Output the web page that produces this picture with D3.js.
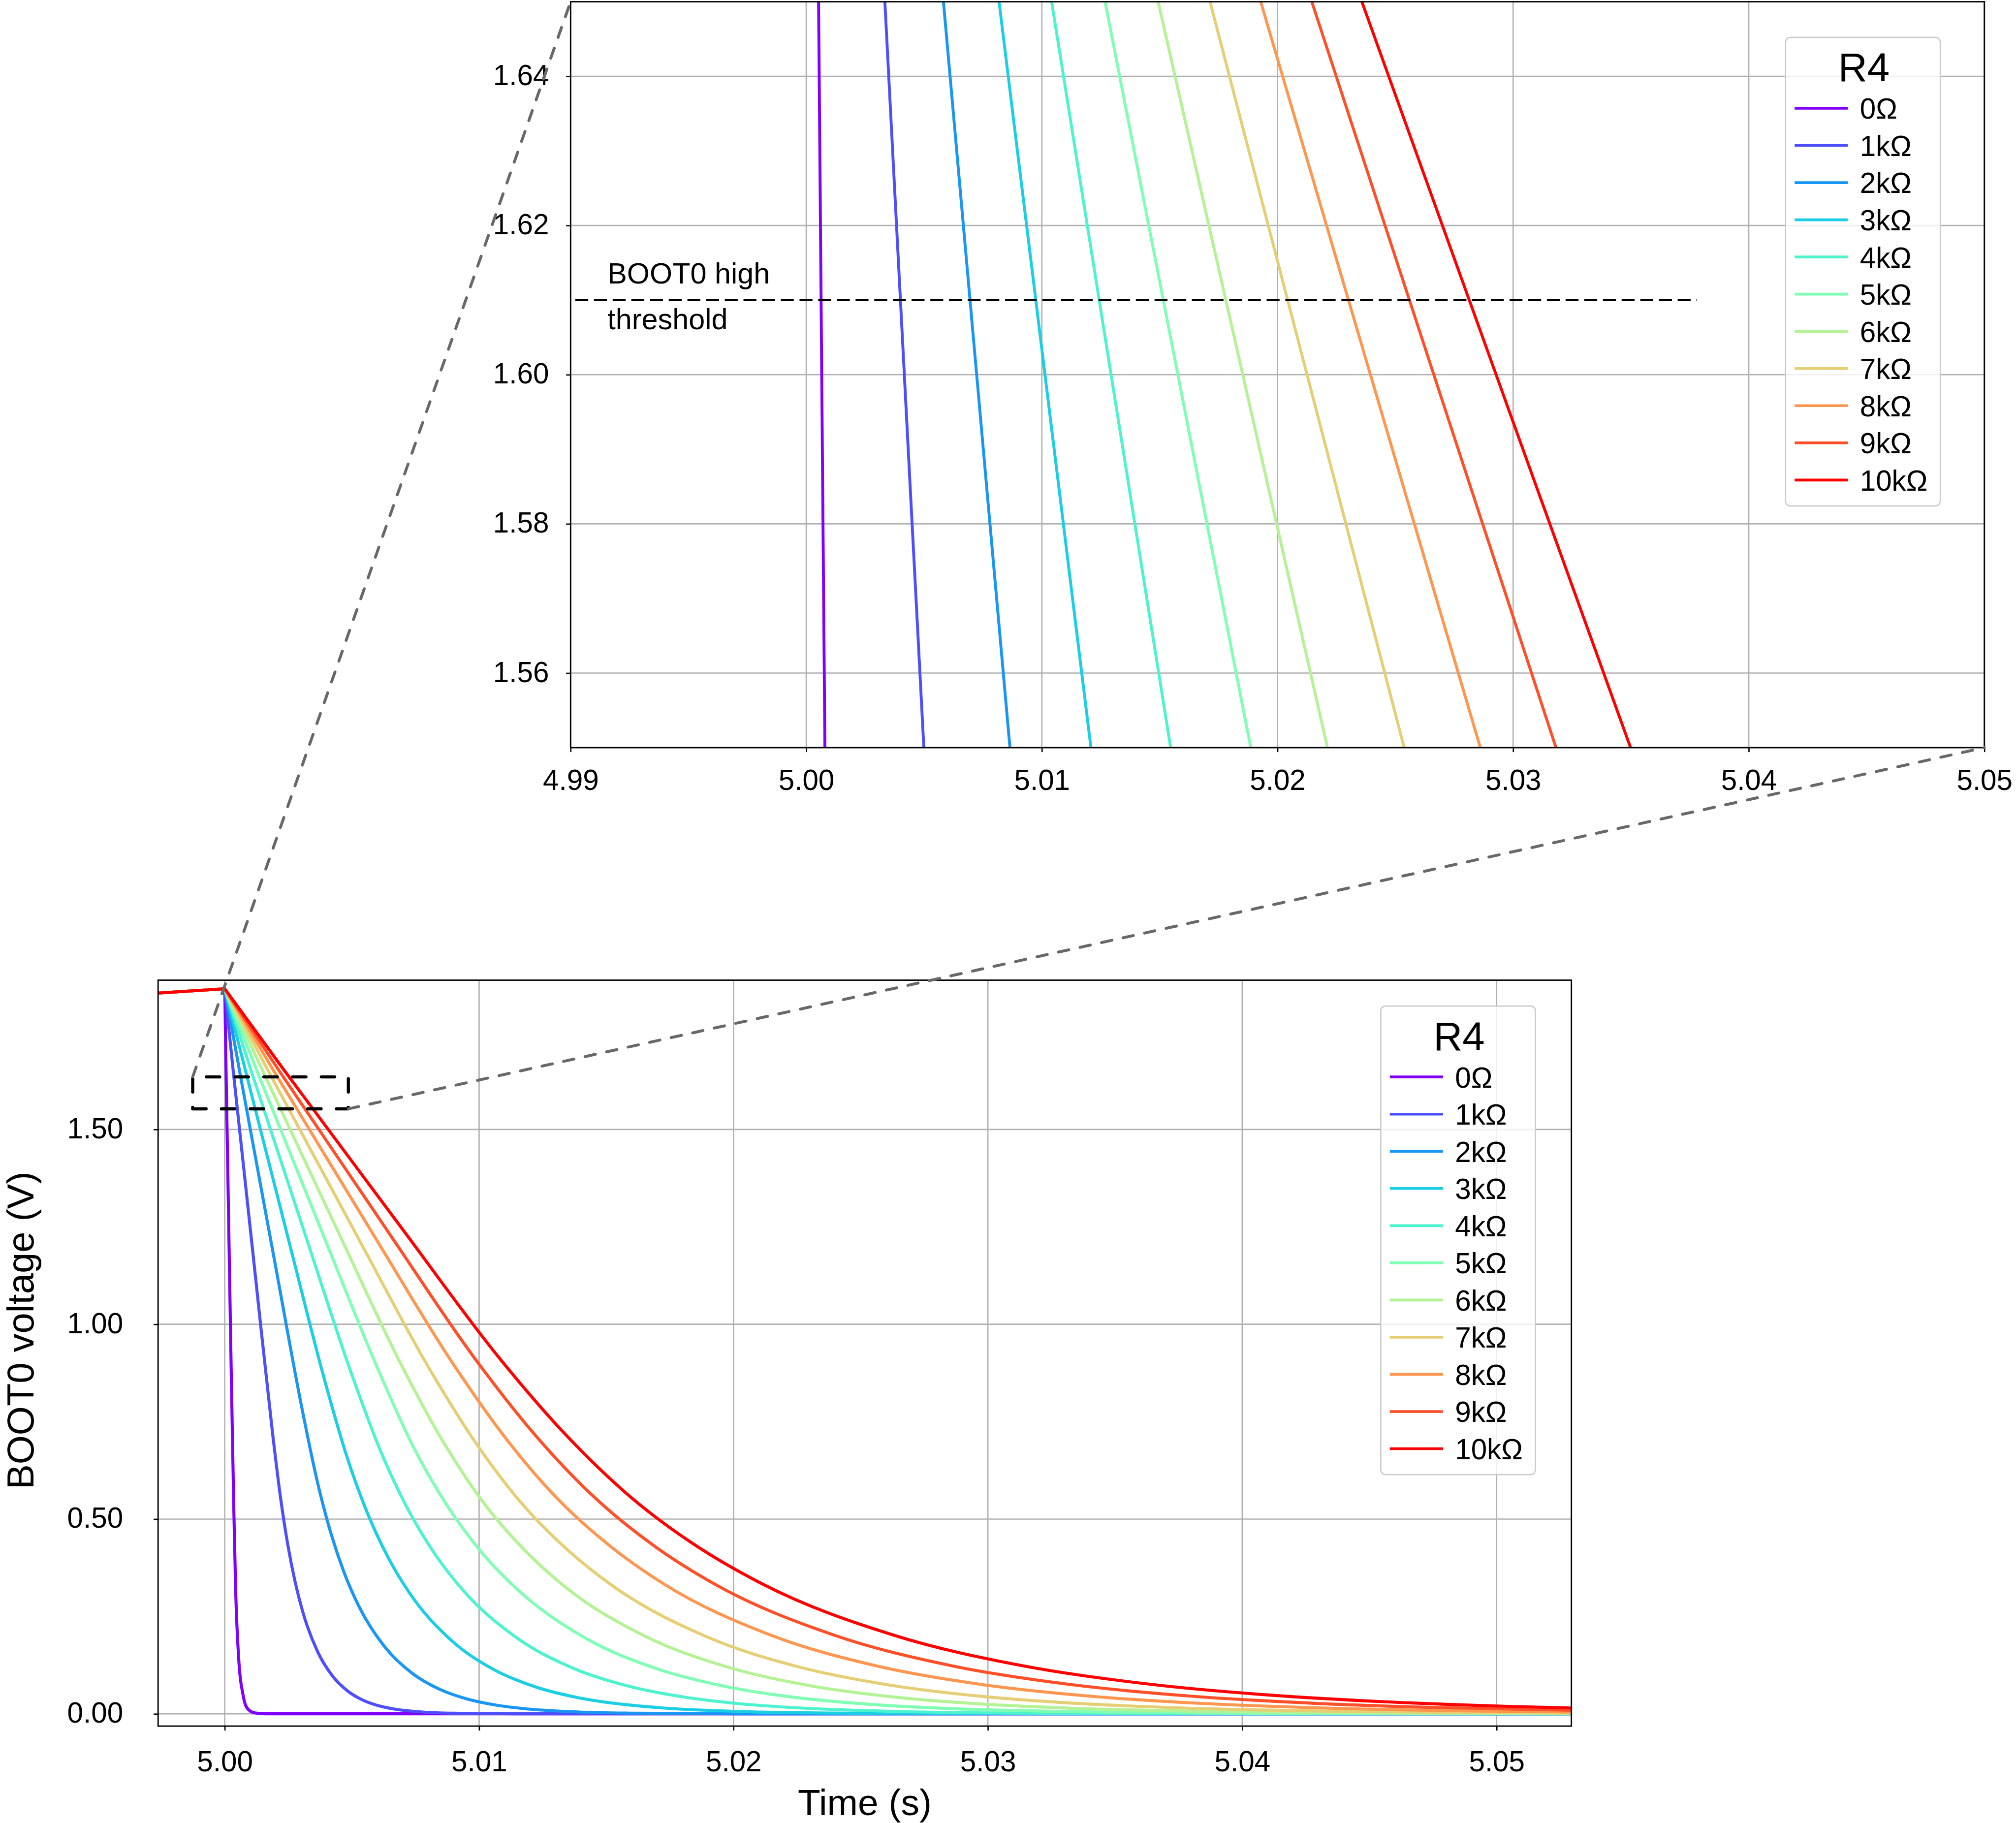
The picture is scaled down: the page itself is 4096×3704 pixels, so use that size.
<!DOCTYPE html>
<html>
<head>
<meta charset="utf-8">
<script src="https://cdn.jsdelivr.net/npm/d3@7"></script>
<style>
html,body{margin:0;padding:0;background:#fff;}
svg{display:block;}
</style>
</head>
<body>
<svg id="chart" width="4096" height="3704"></svg>
<script>
// ---------------- DATA ----------------
const seriesLabels = ["0Ω","1kΩ","2kΩ","3kΩ","4kΩ","5kΩ","6kΩ","7kΩ","8kΩ","9kΩ","10kΩ"];

// shared part before the switching instant (time s, voltage V)
const preTriggerTimes = [4.99738, 5.0];
const preTriggerVolts = [1.850, 1.861];

// each series after the switching instant: [time (s), voltage (V)]
const r0 = [[5.0,1.861],[5.0000524,1.65],[5.0000793,1.55],[5.00024,0.935],[5.00030,0.72],[5.00036,0.515],[5.00043,0.315],[5.00054,0.150],[5.000727,0.046],[5.000868,0.016],[5.00115,0.003],[5.0016,0.0002],[5.0530,0.0]];
const r1k = [[5.0,1.861],[5.0003337,1.65],[5.0004992,1.55],[5.0012,1.1267],[5.0018855,0.7167],[5.0021805,0.561],[5.0024755,0.4353],[5.0027705,0.3377],[5.0030655,0.2622],[5.0036555,0.159],[5.0042455,0.0964],[5.0048355,0.0585],[5.0054255,0.0355],[5.0060155,0.02152],[5.0066055,0.01305],[5.0077855,0.0048],[5.0089655,0.00177],[5.0113255,0.00024],[5.0530,0.0]];
const r2k = [[5.0,1.861],[5.0005823,1.65],[5.0008646,1.55],[5.0020,1.1481],[5.0030931,0.7651],[5.0036306,0.5987],[5.0041681,0.4646],[5.0047056,0.3605],[5.0052431,0.2800],[5.0063181,0.1698],[5.0073931,0.1030],[5.0084681,0.0625],[5.0095431,0.0379],[5.0106181,0.0230],[5.0116931,0.01394],[5.0138431,0.00513],[5.0159931,0.00189],[5.0202931,0.00026],[5.0530,0.0]];
const r3k = [[5.0,1.861],[5.0008183,1.65],[5.0012083,1.55],[5.0026,1.1932],[5.0039536,0.8501],[5.0047786,0.665],[5.0056036,0.5162],[5.0064286,0.4007],[5.0072536,0.3113],[5.0089036,0.1888],[5.0105536,0.1145],[5.0122036,0.0695],[5.0138536,0.04214],[5.0155036,0.02556],[5.0171536,0.0155],[5.0204536,0.0057],[5.0237536,0.0021],[5.0303536,0.00029],[5.0530,0.0]];
const r4k = [[5.0,1.861],[5.0010415,1.65],[5.0015465,1.55],[5.0033,1.2028],[5.0050247,0.8653],[5.0061122,0.6768],[5.0071997,0.5254],[5.0082872,0.4079],[5.0093747,0.3169],[5.0115497,0.1922],[5.0137247,0.1165],[5.0158997,0.0707],[5.0180747,0.0429],[5.0202497,0.0260],[5.0224247,0.01577],[5.0267747,0.0058],[5.0311247,0.00214],[5.0398247,0.00029],[5.0530,0.0]];
const r5k = [[5.0,1.861],[5.0012683,1.65],[5.0018866,1.55],[5.0040,1.2083],[5.0060721,0.8772],[5.0074221,0.6841],[5.0087721,0.5316],[5.0101221,0.4125],[5.0114721,0.3212],[5.0141721,0.1948],[5.0168721,0.1182],[5.0195721,0.0717],[5.0222721,0.04349],[5.0249721,0.02638],[5.0276721,0.0160],[5.0330721,0.00588],[5.0384721,0.00217],[5.0438721,0.0008],[5.0530,0.00015]];
const r6k = [[5.0,1.861],[5.0014935,1.65],[5.002212,1.55],[5.0045,1.2315],[5.006947,0.8949],[5.008547,0.7028],[5.010147,0.5443],[5.011747,0.4229],[5.013347,0.3278],[5.016547,0.1988],[5.019747,0.1205],[5.022947,0.0731],[5.026147,0.04437],[5.029347,0.02691],[5.032547,0.01632],[5.038947,0.0060],[5.045347,0.00221],[5.0530,0.00067]];
const r7k = [[5.0,1.861],[5.0017138,1.65],[5.0025376,1.55],[5.0055,1.1904],[5.0080055,0.8902],[5.0098305,0.6992],[5.0116555,0.5415],[5.0134805,0.4206],[5.0153055,0.3260],[5.0189555,0.1977],[5.0226055,0.1199],[5.0262555,0.0728],[5.0299055,0.0441],[5.0335555,0.02676],[5.0372055,0.01622],[5.0445055,0.00597],[5.0530,0.00187]];
const r8k = [[5.0,1.861],[5.0019287,1.65],[5.0028608,1.55],[5.0060,1.2132],[5.0089065,0.9053],[5.0110065,0.7109],[5.0131065,0.5506],[5.0152065,0.4278],[5.0173065,0.3316],[5.0215065,0.2011],[5.0257065,0.1219],[5.0299065,0.0740],[5.0341065,0.0449],[5.0383065,0.0272],[5.0425065,0.0165],[5.0509065,0.00607],[5.0530,0.00473]];
const r9k = [[5.0,1.861],[5.0021457,1.65],[5.0031819,1.55],[5.0065,1.2298],[5.009844,0.911],[5.012194,0.7164],[5.014544,0.5552],[5.016894,0.4305],[5.019244,0.3337],[5.023944,0.2024],[5.028644,0.1227],[5.033344,0.0745],[5.038044,0.0452],[5.042744,0.0274],[5.047444,0.0166],[5.0530,0.0092]];
const r10k = [[5.0,1.861],[5.0023581,1.65],[5.0034984,1.55],[5.0070,1.2429],[5.010872,0.907],[5.013447,0.7135],[5.016022,0.5529],[5.018597,0.4287],[5.021172,0.3323],[5.026322,0.2015],[5.031472,0.1222],[5.036622,0.0742],[5.041772,0.0450],[5.046922,0.0273],[5.052072,0.01655],[5.0530,0.0151]];

const allSeries = [r0, r1k, r2k, r3k, r4k, r5k, r6k, r7k, r8k, r9k, r10k];

// axis ticks
const mainXTicks = [5.00, 5.01, 5.02, 5.03, 5.04, 5.05];
const mainXTickLabels = ["5.00","5.01","5.02","5.03","5.04","5.05"];
const mainYTicks = [0.0, 0.5, 1.0, 1.5];
const mainYTickLabels = ["0.00","0.50","1.00","1.50"];
const insetXTicks = [4.999, 5.000, 5.001, 5.002, 5.003, 5.004, 5.005];
const insetXTickLabels = ["4.99","5.00","5.01","5.02","5.03","5.04","5.05"];
const insetYTicks = [1.56, 1.58, 1.60, 1.62, 1.64];
const insetYTickLabels = ["1.56","1.58","1.60","1.62","1.64"];

// BOOT0 high threshold line in the inset
const thresholdVolts = 1.61;
const thresholdTimes = [4.99902, 5.00378];
const thresholdText = ["BOOT0 high", "threshold"];

// zoom rectangle drawn on the main plot
const zoomBoxTimes = [4.99874, 5.004859];
const zoomBoxVolts = [1.5528, 1.6348];

const legendTitle = "R4";
const xAxisLabel = "Time (s)";
const yAxisLabel = "BOOT0 voltage (V)";

// ---------------- STYLE ----------------
const seriesColors = ['#8000ff','#4d4ffc','#1996f3','#1acee3','#4df3ce','#80ffb4','#b3f396','#e6ce74','#ff964f','#ff4f28','#ff0000'];
const FONT = '"Liberation Sans", Arial, Helvetica, sans-serif';
const S = 4096 / 4208;

const svg = d3.select('#chart');
svg.append('rect').attr('width', 4096).attr('height', 3704).attr('fill', '#fff');
const root = svg.append('g').attr('transform', `scale(${S})`);
const defs = root.append('defs');

function buildPath(xs, ys, pts) {
  const pre = preTriggerTimes.map((t, i) => [t, preTriggerVolts[i]]);
  const lin = d3.line().x(d => xs(d[0])).y(d => ys(d[1]));
  const mono = d3.line().x(d => xs(d[0])).y(d => ys(d[1])).curve(d3.curveMonotoneX);
  return lin(pre) + mono(pts).replace(/^M/, 'L');
}

function drawLegend(g, bx, by) {
  const w = 323, h = 978;
  const lg = g.append('g');
  lg.append('rect').attr('x', bx).attr('y', by).attr('width', w).attr('height', h)
    .attr('rx', 10).attr('ry', 10)
    .attr('fill', 'rgba(255,255,255,0.8)').attr('stroke', '#cccccc').attr('stroke-width', 2.7);
  lg.append('text').attr('x', bx + w / 2 + 2).attr('y', by + 92)
    .attr('text-anchor', 'middle').attr('font-family', FONT).attr('font-size', 84).attr('fill', '#000')
    .text(legendTitle);
  seriesLabels.forEach((lab, i) => {
    const yy = by + 148 + i * 77.6;
    lg.append('line').attr('x1', bx + 19).attr('x2', bx + 130).attr('y1', yy).attr('y2', yy)
      .attr('stroke', seriesColors[i]).attr('stroke-width', 5.8);
    lg.append('text').attr('x', bx + 155).attr('y', yy + 22)
      .attr('font-family', FONT).attr('font-size', 60).attr('fill', '#000').text(lab);
  });
}

function drawPanel(cfg) {
  const g = root.append('g');
  const [x0, x1] = cfg.x.range();
  const [yb, yt] = cfg.y.range();
  defs.append('clipPath').attr('id', cfg.id).append('rect')
    .attr('x', x0).attr('y', yt).attr('width', x1 - x0).attr('height', yb - yt);
  g.append('rect').attr('x', x0).attr('y', yt).attr('width', x1 - x0).attr('height', yb - yt).attr('fill', '#fff');
  // grid
  const grid = g.append('g').attr('stroke', '#b0b0b0').attr('stroke-width', 2.7);
  grid.selectAll('line.gx').data(cfg.xTicks).join('line').attr('class', 'gx')
    .attr('x1', d => cfg.x(d)).attr('x2', d => cfg.x(d)).attr('y1', yb).attr('y2', yt);
  grid.selectAll('line.gy').data(cfg.yTicks).join('line').attr('class', 'gy')
    .attr('y1', d => cfg.y(d)).attr('y2', d => cfg.y(d)).attr('x1', x0).attr('x2', x1);
  // curves
  const plot = g.append('g').attr('clip-path', `url(#${cfg.id})`);
  allSeries.forEach((pts, i) => {
    plot.append('path').attr('d', buildPath(cfg.x, cfg.y, pts))
      .attr('fill', 'none').attr('stroke', seriesColors[i]).attr('stroke-width', cfg.lw)
      .attr('stroke-linejoin', 'round');
  });
  if (cfg.extra) cfg.extra(plot, g);
  // x axis
  const gx = g.append('g').attr('transform', `translate(0,${yb})`)
    .call(d3.axisBottom(cfg.x).tickValues(cfg.xTicks).tickFormat((d, i) => cfg.xLabels[i]).tickSize(9.3).tickSizeOuter(0));
  gx.select('.domain').remove();
  gx.selectAll('.tick line').attr('stroke', '#000').attr('stroke-width', 2.7);
  gx.selectAll('.tick text').attr('y', cfg.xLabOff).attr('dy', 0)
    .attr('font-family', FONT).attr('font-size', 60).attr('fill', '#000');
  // y axis
  const gy = g.append('g').attr('transform', `translate(${x0},0)`)
    .call(d3.axisLeft(cfg.y).tickValues(cfg.yTicks).tickFormat((d, i) => cfg.yLabels[i]).tickSize(9.3).tickSizeOuter(0));
  gy.select('.domain').remove();
  gy.selectAll('.tick line').attr('stroke', '#000').attr('stroke-width', 2.7);
  gy.selectAll('.tick text').attr('x', -cfg.yLabOff).attr('dy', 0).attr('y', 18)
    .attr('font-family', FONT).attr('font-size', 60).attr('fill', '#000').attr('text-anchor', 'end');
  // spines
  g.append('rect').attr('x', x0).attr('y', yt).attr('width', x1 - x0).attr('height', yb - yt)
    .attr('fill', 'none').attr('stroke', '#000').attr('stroke-width', 2.9);
  drawLegend(g, cfg.legend[0], cfg.legend[1]);
  return g;
}

// ---------------- MAIN AXES ----------------
const xMain = d3.scaleLinear().domain([4.99738, 5.05294]).range([330, 3280]);
const yMain = d3.scaleLinear().domain([-0.03135, 1.8831]).range([3603, 2046]);
drawPanel({id: 'clipMain', x: xMain, y: yMain, lw: 6.3,
  xTicks: mainXTicks, xLabels: mainXTickLabels, yTicks: mainYTicks, yLabels: mainYTickLabels,
  xLabOff: 94, yLabOff: 73, legend: [2882, 2100]});

root.append('text').attr('x', 1805).attr('y', 3789).attr('text-anchor', 'middle')
  .attr('font-family', FONT).attr('font-size', 77).attr('fill', '#000').text(xAxisLabel);
root.append('text').attr('transform', 'translate(70,2777) rotate(-90)').attr('text-anchor', 'middle')
  .attr('font-family', FONT).attr('font-size', 78).attr('fill', '#000').text(yAxisLabel);

// ---------------- INSET AXES ----------------
const xInset = d3.scaleLinear().domain([4.999, 5.005]).range([1191, 4142]);
const yInset = d3.scaleLinear().domain([1.55, 1.65]).range([1560.6, 3.6]);
drawPanel({id: 'clipInset', x: xInset, y: yInset, lw: 6.0,
  xTicks: insetXTicks, xLabels: insetXTickLabels, yTicks: insetYTicks, yLabels: insetYTickLabels,
  xLabOff: 88, yLabOff: 45, legend: [3727, 78],
  extra: (plot, g) => {
    g.append('line').attr('x1', xInset(thresholdTimes[0])).attr('x2', xInset(thresholdTimes[1]))
      .attr('y1', yInset(thresholdVolts)).attr('y2', yInset(thresholdVolts))
      .attr('stroke', '#000').attr('stroke-width', 4.5).attr('stroke-dasharray', '27,12');
    g.append('text').attr('x', 1268).attr('y', 592).attr('font-family', FONT).attr('font-size', 61)
      .attr('fill', '#000').text(thresholdText[0]);
    g.append('text').attr('x', 1268).attr('y', 687).attr('font-family', FONT).attr('font-size', 61)
      .attr('fill', '#000').text(thresholdText[1]);
  }});

// ---------------- ZOOM BOX + CONNECTORS ----------------
const bx0 = xMain(zoomBoxTimes[0]), bx1 = xMain(zoomBoxTimes[1]);
const byT = yMain(zoomBoxVolts[1]), byB = yMain(zoomBoxVolts[0]);
root.append('path')
  .attr('d', `M${bx0},${byB}L${bx1},${byB}L${bx1},${byT}L${bx0},${byT}Z`)
  .attr('fill', 'none').attr('stroke', '#000').attr('stroke-width', 6.5)
  .attr('stroke-dasharray', '28,32').attr('stroke-linecap', 'round').attr('stroke-linejoin', 'round');
const [ix0, ix1] = xInset.range();
const [iyB, iyT] = yInset.range();
root.append('line').attr('x1', bx0).attr('y1', byT).attr('x2', ix0).attr('y2', iyT)
  .attr('stroke', '#686868').attr('stroke-width', 6).attr('stroke-dasharray', '22,24').attr('stroke-linecap', 'round');
root.append('line').attr('x1', bx1).attr('y1', byB).attr('x2', ix1).attr('y2', iyB)
  .attr('stroke', '#686868').attr('stroke-width', 6).attr('stroke-dasharray', '22,24').attr('stroke-linecap', 'round');
</script>
</body>
</html>
